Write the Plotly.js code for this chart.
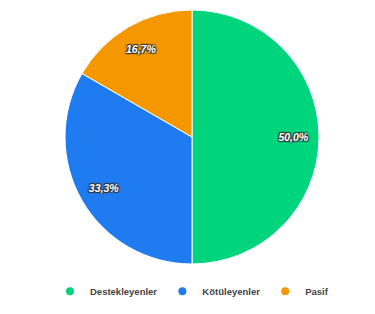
<!DOCTYPE html>
<html>
<head>
<meta charset="utf-8">
<script src="https://cdn.plot.ly/plotly-3.0.1.min.js"></script>
<style>html,body{margin:0;padding:0;background:#fff;}#chart{width:375px;height:314px;}</style>
</head>
<body>
<div id="chart"></div>
<script>
const categories = ["Destekleyenler", "Kötüleyenler", "Pasif"];
const values = [3, 2, 1];
const colors = ["#00d47c", "#1f7cf0", "#f59700"];

const pie = {
  type: "pie",
  labels: categories,
  values: values,
  sort: false,
  direction: "clockwise",
  rotation: 0,
  marker: { colors: colors, line: { color: "#ffffff", width: 1 } },
  textinfo: "none",
  hoverinfo: "label+percent",
  showlegend: false
};

// transparent ring carrying the labels, so they sit near the outer edge
const labelRing = {
  type: "pie",
  labels: categories,
  values: values,
  sort: false,
  direction: "clockwise",
  rotation: 0,
  hole: 0.6,
  marker: { colors: categories.map(() => "rgba(0,0,0,0)"), line: { width: 0 } },
  texttemplate: "%{percent:.1%}",
  textposition: "inside",
  insidetextorientation: "horizontal",
  textfont: { family: "Liberation Sans, Arial, sans-serif", size: 10.5, color: "#ffffff", style: "italic", weight: "bold", shadow: "1px 1px 1px #333, -1px -1px 1px #333, 1px -1px 1px #333, -1px 1px 1px #333" },
  hoverinfo: "skip",
  showlegend: false
};

const legendTraces = categories.map((c, i) => ({
  type: "scatter",
  mode: "markers",
  x: [null], y: [null],
  name: c,
  marker: { color: colors[i], size: 8, symbol: "circle" },
  showlegend: true
}));

const layout = {
  width: 375, height: 314,
  margin: { l: 9, r: 0, t: 10, b: 50 },
  separators: ",.",
  paper_bgcolor: "#ffffff",
  plot_bgcolor: "#ffffff",
  xaxis: { visible: false },
  yaxis: { visible: false },
  showlegend: true,
  legend: {
    orientation: "h",
    x: 0.5, xanchor: "center",
    y: -0.05, yanchor: "top",
    font: { family: "Liberation Sans, Arial, sans-serif", size: 9.5, color: "#444444", weight: "bold" },
    itemwidth: 30
  }
};

Plotly.newPlot("chart", [pie, labelRing, ...legendTraces], layout, { displayModeBar: false, staticPlot: true });
</script>
</body>
</html>
